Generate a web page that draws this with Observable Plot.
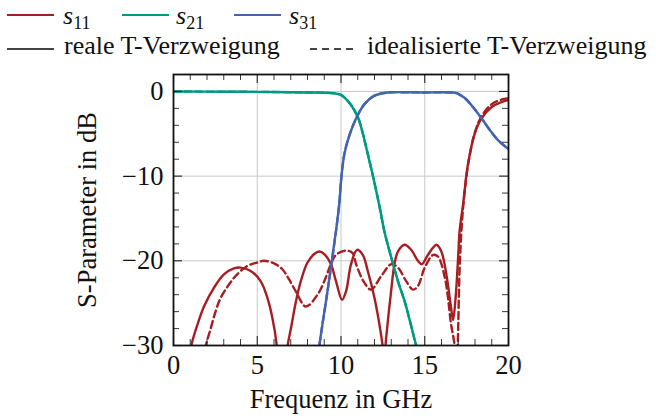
<!DOCTYPE html>
<html><head><meta charset="utf-8">
<script src="https://cdn.jsdelivr.net/npm/d3@7"></script>
<script src="https://cdn.jsdelivr.net/npm/@observablehq/plot@0.6"></script>
<style>
body{margin:0;background:#fff;font-family:"Liberation Serif","Times New Roman",serif;color:#111;}
#wrap{position:relative;width:656px;height:418px;overflow:hidden;}
#legend{position:relative;height:65px;font-size:26px;line-height:26px;}
.sw{position:absolute;}
.tx{position:absolute;white-space:nowrap;}
.tx i{font-style:italic;}
.tx .sub{font-size:18px;position:relative;top:5px;}
#chart svg{display:block;}
</style></head><body>
<div id="wrap"><div id="legend"></div><div id="chart"></div></div>
<script>
// ---- data ----
const s11RealF  = [0.9, 1.06, 1.42, 1.82, 2.41, 3.01, 3.61, 4.0, 4.61, 5.2, 5.61, 5.91, 6.17, 6.45, 6.81, 7.01, 7.31, 7.6, 8.0, 8.4, 8.7, 9.0, 9.4, 9.7, 10.06, 10.3, 10.6, 10.96, 11.3, 11.6, 12.0, 12.3, 12.5, 12.57, 12.7, 12.99, 13.19, 13.4, 13.8, 14.19, 14.59, 14.83, 15.19, 15.7, 15.99, 16.29, 16.55, 16.69, 16.84, 16.99, 17.08, 17.29, 17.58, 17.98, 18.38, 18.98, 19.58, 20];
const s11RealDb = [-34, -30.1, -27.6, -25.4, -23.2, -21.6, -20.9, -20.8, -21.2, -22.4, -24.4, -26.8, -30.1, -40, -30.1, -28, -24.8, -22.4, -20.2, -19.2, -18.9, -19.2, -20.4, -22.4, -24.6, -23.6, -20.4, -18.7, -19.3, -21.2, -24.4, -27.6, -30.3, -32, -29, -23.6, -20.4, -18.9, -18.1, -18.7, -20.0, -20.4, -19.3, -18.1, -18.9, -21.6, -25.2, -27, -24.4, -19.7, -16.5, -13.3, -8.6, -5.0, -3.2, -1.86, -1.27, -1.0];

const s11IdealF  = [1.7, 1.92, 2.22, 2.51, 2.81, 3.31, 3.8, 4.41, 5.01, 5.4, 6.0, 6.5, 6.9, 7.3, 7.9, 8.6, 9.0, 9.4, 9.7, 10.3, 10.7, 10.9, 11.4, 11.8, 12.4, 13.0, 13.4, 13.89, 14.3, 14.59, 15.0, 15.5, 15.79, 16.2, 16.39, 16.55, 16.8, 16.88, 16.97, 17.1, 17.3, 17.6, 18.0, 18.4, 19.0, 19.6, 20];
const s11IdealDb = [-33, -30.1, -28, -26, -24.4, -22.8, -21.6, -20.6, -20.2, -20.0, -20.3, -21.0, -22.2, -23.6, -25.4, -24, -22.4, -20.4, -19.3, -18.8, -19.1, -20.4, -22.6, -23.4, -21.8, -20.4, -20.8, -22.4, -23.4, -23, -20.8, -19.3, -19.5, -22, -24.4, -27.2, -30.3, -35, -30, -20, -13.5, -8.5, -4.8, -2.9, -1.5, -0.95, -0.8];

const s21F  = [0, 3, 6, 8, 9, 9.6, 10.0, 10.3, 10.6, 11.0, 11.2, 11.6, 12.0, 12.3, 12.6, 13.0, 13.4, 13.8, 14.1, 14.5, 14.8];
const s21Db = [0, -0.03, -0.07, -0.12, -0.15, -0.22, -0.4, -0.9, -1.6, -3.0, -4.2, -7.4, -10.8, -13.6, -16.6, -19.6, -22.4, -24.8, -27, -30.1, -32];

const s31F  = [8.4, 8.7, 9.2, 9.7, 9.9, 10.0, 10.2, 10.5, 10.9, 11.4, 12.0, 12.8, 14, 15, 16, 16.6, 16.9, 17.1, 17.4, 17.9, 18.4, 18.9, 19.4, 20];
const s31Db = [-35, -30.1, -23.5, -16.5, -13.2, -10.6, -7.4, -5.2, -3.2, -1.5, -0.5, -0.12, -0.1, -0.12, -0.1, -0.12, -0.2, -0.4, -0.8, -1.9, -3.2, -4.6, -5.8, -6.8];

const xTicks = [0, 5, 10, 15, 20];
const yTicks = [0, -10, -20, -30];
const xMinor = [1, 2, 3, 4, 6, 7, 8, 9, 11, 12, 13, 14, 16, 17, 18, 19];
const yMinor = [-2, -4, -6, -8, -12, -14, -16, -18, -22, -24, -26, -28];

const seriesNames = ["s11", "s21", "s31"];
const seriesColors = ["#a61e22", "#009a82", "#4464b0"];
const styleNames = ["reale T-Verzweigung", "idealisierte T-Verzweigung"];

// ---- layout ----
const W = 656, H = 353;
const mt = 9, mb = 73, ml = 173, mr = 148;
const xDom = [0, 20], yDom = [-30, 2];
const pxX = (W - ml - mr) / (xDom[1] - xDom[0]);
const pxY = (H - mt - mb) / (yDom[1] - yDom[0]);
const majLen = 9, minLen = 6;

const toRows = (f, db) => f.map((v, i) => ({f: v, db: db[i]}));
const lw = 2.4, dash = "7,4";
const lineOpts = (color, dashed) => ({x: "f", y: "db", stroke: color, strokeWidth: lw, curve: "catmull-rom", clip: true, strokeDasharray: dashed ? dash : null});

const tickColor = "#222";
const ticks = [];
function addX(vals, len, sw) {
  ticks.push(Plot.ruleX(vals, {x: d => d, y1: yDom[0], y2: yDom[0] + len / pxY, stroke: tickColor, strokeWidth: sw}));
  ticks.push(Plot.ruleX(vals, {x: d => d, y1: yDom[1], y2: yDom[1] - len / pxY, stroke: tickColor, strokeWidth: sw}));
}
function addY(vals, len, sw) {
  ticks.push(Plot.ruleY(vals, {y: d => d, x1: xDom[0], x2: xDom[0] + len / pxX, stroke: tickColor, strokeWidth: sw}));
  ticks.push(Plot.ruleY(vals, {y: d => d, x1: xDom[1], x2: xDom[1] - len / pxX, stroke: tickColor, strokeWidth: sw}));
}
addX(xTicks, majLen, 1.1); addX(xMinor, minLen, 0.9);
addY(yTicks, majLen, 1.1); addY(yMinor, minLen, 0.9);

const chart = Plot.plot({
  width: W, height: H,
  marginTop: mt, marginBottom: mb, marginLeft: ml, marginRight: mr,
  style: {fontFamily: "'Liberation Serif', 'Times New Roman', serif", fontSize: "26px", color: "#111", background: "#fff"},
  x: {domain: xDom},
  y: {domain: yDom},
  marks: [
    Plot.ruleX(xTicks.slice(1, -1), {stroke: "#c8c8c8", strokeWidth: 1}),
    Plot.ruleY(yTicks.slice(0, -1), {stroke: "#c8c8c8", strokeWidth: 1}),
    Plot.line(toRows(s21F, s21Db), lineOpts(seriesColors[1], true)),
    Plot.line(toRows(s31F, s31Db), lineOpts(seriesColors[2], true)),
    Plot.line(toRows(s11IdealF, s11IdealDb), lineOpts(seriesColors[0], true)),
    Plot.line(toRows(s11RealF, s11RealDb), lineOpts(seriesColors[0], false)),
    Plot.line(toRows(s21F, s21Db), lineOpts(seriesColors[1], false)),
    Plot.line(toRows(s31F, s31Db), lineOpts(seriesColors[2], false)),
    ...ticks,
    Plot.frame({stroke: "#111", strokeWidth: 1.8}),
    Plot.axisX(xTicks, {tickSize: 0, tickPadding: 10, fontSize: 26.5, label: "Frequenz in GHz", labelAnchor: "center", labelOffset: 62, labelArrow: "none"}),
    Plot.axisY(yTicks, {tickSize: 0, tickPadding: 10, fontSize: 26.5, label: "S-Parameter in dB", labelAnchor: "center", labelOffset: 96, labelArrow: "none"})
  ]
});
document.getElementById("chart").appendChild(chart);

// ---- legend (HTML above the SVG) ----
const legend = document.getElementById("legend");
function swatch(x, y, color, dashed) {
  const ns = "http://www.w3.org/2000/svg";
  const s = document.createElementNS(ns, "svg");
  s.setAttribute("width", 48); s.setAttribute("height", 8);
  s.setAttribute("class", "sw");
  s.style.left = x + "px"; s.style.top = (y - 4) + "px";
  const l = document.createElementNS(ns, "line");
  l.setAttribute("x1", 0); l.setAttribute("x2", 47); l.setAttribute("y1", 4); l.setAttribute("y2", 4);
  l.setAttribute("stroke", color); l.setAttribute("stroke-width", 2);
  if (dashed) l.setAttribute("stroke-dasharray", "7,5");
  s.appendChild(l); legend.appendChild(s);
}
function label(x, baseline, html) {
  const d = document.createElement("div");
  d.className = "tx"; d.style.left = x + "px"; d.style.top = (baseline - 22) + "px";
  d.innerHTML = html; legend.appendChild(d);
}
const row1X = [7, 122, 234], row1T = [63, 176, 289];
seriesNames.forEach((n, i) => {
  swatch(row1X[i], 15, seriesColors[i], false);
  label(row1T[i], 24.5, `<i>${n[0]}</i><span class="sub">${n.slice(1)}</span>`);
});
swatch(7, 49, "#444", false); label(64, 55, styleNames[0]);
swatch(310, 49, "#444", true); label(367, 55, styleNames[1]);
</script>
</body></html>
